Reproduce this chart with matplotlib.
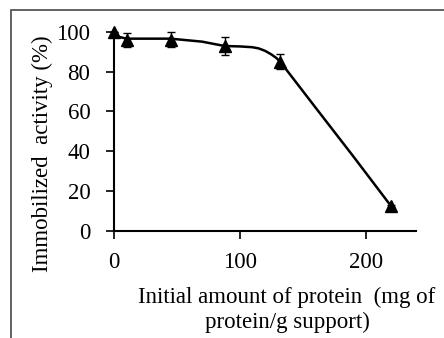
import matplotlib
matplotlib.use("Agg")
import matplotlib.pyplot as plt
from matplotlib.patches import Rectangle

plt.rcParams['font.family'] = ['Liberation Serif', 'DejaVu Serif']

# measured points
protein = [0, 10, 45, 88, 132, 220]
activity = [100, 96, 96, 93, 85, 12.5]
err = [0, 3.5, 3.8, 4.5, 3.8, 0.5]

# smooth trend line
curve_x = [0, 10, 45, 70, 88, 100, 110, 115, 120, 125, 129, 132, 160, 190, 220]
curve_y = [98, 96.5, 96.5, 95, 92.8, 92.6, 92.2, 91.6, 90.4, 88.6, 86.8, 85,
           62, 37.5, 12.5]

fig = plt.figure(figsize=(4.44, 3.38), dpi=100)
ax = fig.add_axes([114/444, 1-230.7/338, (416-114)/444, (230.7-31.7)/338])

ax.plot(curve_x, curve_y, color='black', lw=1.8, zorder=2, clip_on=False)
eb = ax.errorbar(protein, activity, yerr=err, fmt='^', color='black', ms=8,
                 ecolor='black', elinewidth=1, capsize=3, capthick=1, zorder=3)
eb.lines[0].set_clip_on(False)
for art in list(eb.lines[1]) + list(eb.lines[2]):
    art.set_clip_on(False)

ax.set_xlim(0, 240)
ax.set_ylim(0, 100)
ax.set_xticks([0, 100, 200])
ax.set_yticks([0, 20, 40, 60, 80, 100])
ax.spines['top'].set_visible(False)
ax.spines['right'].set_visible(False)
ax.spines['left'].set_linewidth(1.5)
ax.spines['bottom'].set_linewidth(1.5)
ax.tick_params(direction='out', length=6, width=1.2, labelsize=16.5)
ax.tick_params(axis='x', pad=9)
ax.tick_params(axis='y', pad=11)
for s in ['left', 'bottom']:
    ax.spines[s].set_clip_on(False)

fig.text(42/444, 1-153.5/338, 'Immobilized  activity (%)', rotation=90,
         ha='center', va='center', fontsize=16.5)
fig.text(287/444, 1-297/338, 'Initial amount of protein  (mg of', ha='center',
         va='center', fontsize=16.5)
fig.text(287/444, 1-322/338, 'protein/g support)', ha='center',
         va='center', fontsize=16.5)

# outer frame
fig.patches.append(Rectangle((10.5/444, -0.1), 1.2, 1 - 9.5/338 + 0.1,
                             transform=fig.transFigure, fill=False,
                             edgecolor='#555555', lw=1.3))

fig.savefig('out.png', dpi=100)
